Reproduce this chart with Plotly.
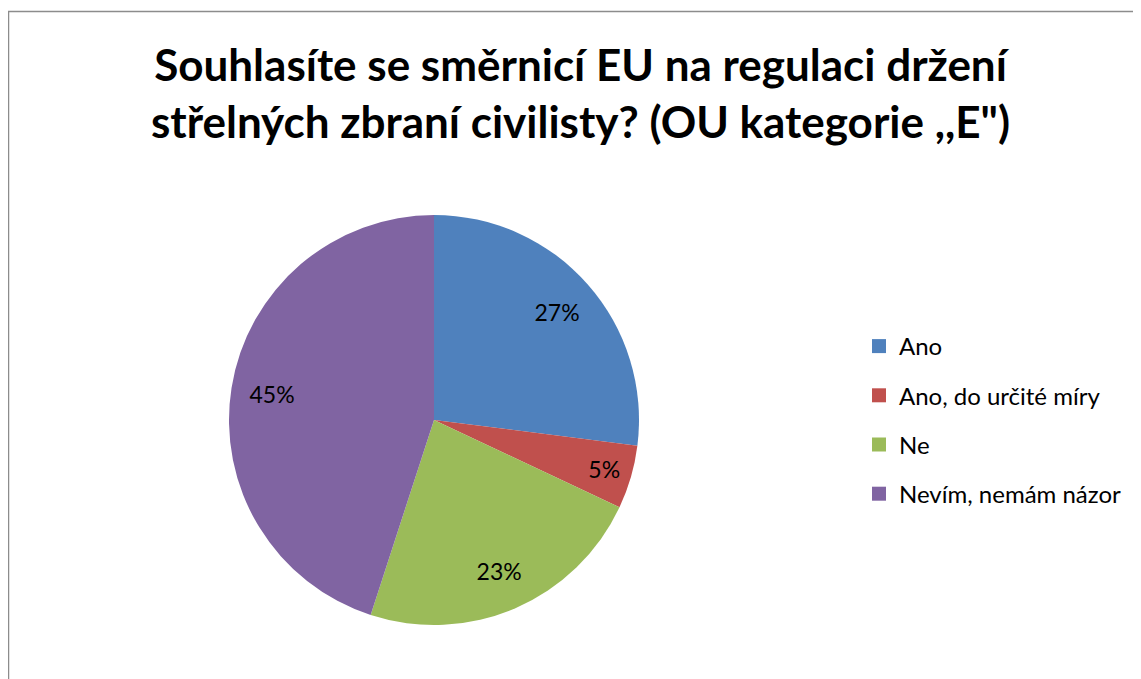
import plotly.graph_objects as go

labels = ["Ano", "Ano, do určité míry", "Ne", "Nevím, nemám názor"]
values = [27, 5, 23, 45]
colors = ["#4F81BD", "#C0504D", "#9BBB59", "#8064A2"]

title = "Souhlasíte se směrnicí EU na regulaci držení<br>střelných zbraní civilisty? (OU kategorie ,,E\")"

W, H = 1141, 679
OFF = 8  # page body margin in the browser

dom = dict(x=[(229 - OFF) / W, (639 - OFF) / W],
           y=[(H - 625 + OFF) / H, (H - 215 + OFF) / H])

fig = go.Figure()

fig.add_trace(go.Pie(
    labels=labels,
    values=values,
    marker=dict(colors=colors, line=dict(color="white", width=0)),
    sort=False,
    direction="clockwise",
    rotation=0,
    textinfo="none",
    domain=dom,
    showlegend=False,
    hoverinfo="label+percent",
))

# transparent ring on top, only to put the percent labels further out
fig.add_trace(go.Pie(
    labels=labels,
    values=values,
    hole=0.6,
    marker=dict(colors=["rgba(0,0,0,0)"] * len(values), line=dict(width=0)),
    sort=False,
    direction="clockwise",
    rotation=0,
    texttemplate="%{percent:.0%}",
    textposition="inside",
    insidetextorientation="horizontal",
    textfont=dict(family="Lato", size=23, color="black"),
    domain=dom,
    showlegend=False,
    hoverinfo="skip",
))

# legend entries as dummy traces so the row spacing can match
for i, (lab, col) in enumerate(zip(labels, colors)):
    fig.add_trace(go.Scatter(
        x=[None], y=[None], mode="markers", name=lab,
        marker=dict(symbol="square", size=14, color=col),
        legendgroup=str(i),
    ))

fig.update_layout(
    width=W, height=H,
    margin=dict(l=0, r=0, t=0, b=0),
    paper_bgcolor="white",
    plot_bgcolor="white",
    font=dict(family="Lato", color="black"),
    xaxis=dict(visible=False),
    yaxis=dict(visible=False),
    legend=dict(
        x=(859 - OFF) / W, xanchor="left",
        y=(H - 420 + OFF) / H, yanchor="middle",
        font=dict(family="Lato", size=24, color="black"),
        tracegroupgap=15,
        itemsizing="trace",
        bgcolor="rgba(0,0,0,0)",
    ),
    annotations=[dict(
        text=title, showarrow=False,
        xref="paper", yref="paper",
        x=(580 - OFF) / W, xanchor="center",
        y=1 - (36 - OFF) / H, yanchor="top",
        font=dict(family="Lato", size=44, color="black", weight="bold"),
    )],
    shapes=[dict(
        type="rect", xref="paper", yref="paper",
        x0=(8.5 - OFF) / W, x1=1.1, y0=-0.1, y1=1 - (11.5 - OFF) / H,
        line=dict(color="#8C8C8C", width=1.5),
        fillcolor="rgba(0,0,0,0)",
    )],
)

fig.write_html("out.html")
